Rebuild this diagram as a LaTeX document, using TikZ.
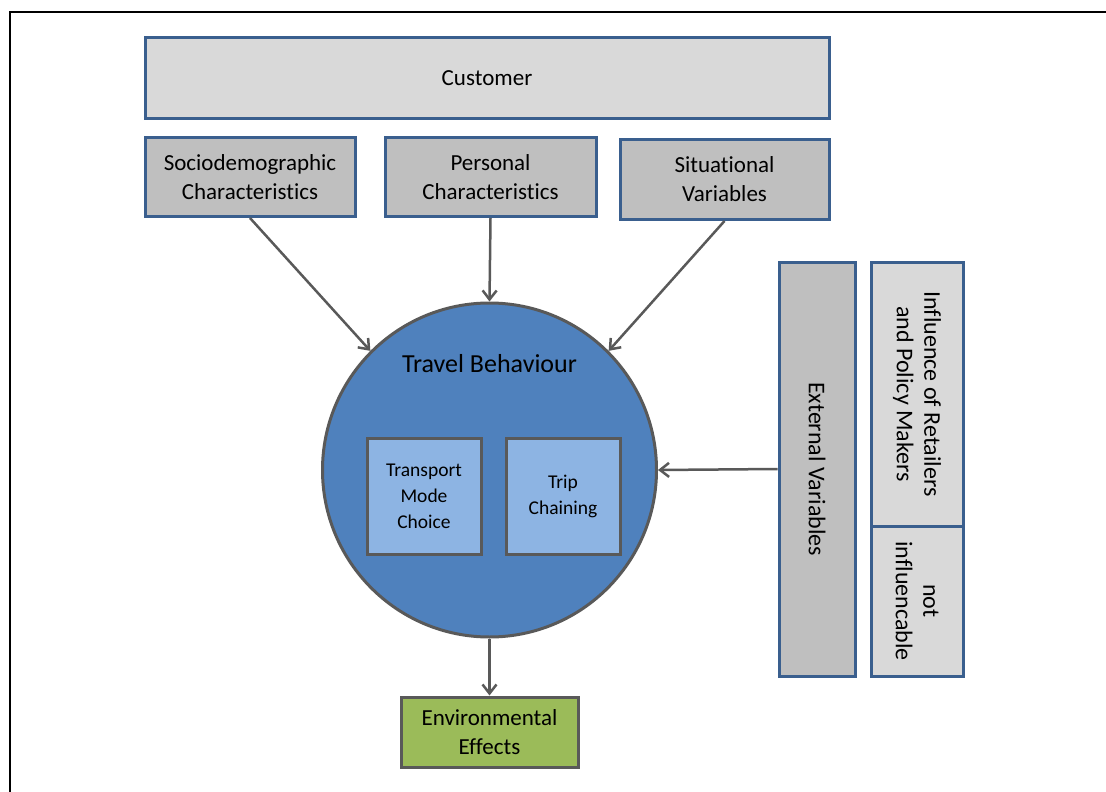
\documentclass[tikz,border=0pt]{standalone}
\usepackage{fontspec}
\setmainfont{Carlito}[Ligatures={NoCommon}]
\usetikzlibrary{arrows.meta}

\newlength{\du}
\setlength{\du}{1pt}

\definecolor{boxline}{rgb}{0.227,0.373,0.557}
\definecolor{darkline}{rgb}{0.349,0.349,0.349}
\definecolor{lightfill}{rgb}{0.851,0.851,0.851}
\definecolor{midfill}{rgb}{0.749,0.749,0.749}
\definecolor{circlefill}{rgb}{0.310,0.506,0.741}
\definecolor{innerfill}{rgb}{0.553,0.706,0.890}
\definecolor{envfill}{rgb}{0.608,0.733,0.349}

\tikzset{
  box/.style={draw=boxline, line width=3\du, inner sep=0pt, align=center,
    font=\fontsize{23}{29}\selectfont},
  lightbox/.style={box, fill=lightfill},
  midbox/.style={box, fill=midfill},
  innerbox/.style={draw=darkline, line width=3\du, fill=innerfill, inner sep=0pt,
    align=center, minimum width=114\du, minimum height=116\du,
    font=\fontsize{19.5}{26}\selectfont},
  sidetext/.style={rotate=-90, align=center, inner sep=0pt,
    font=\fontsize{24}{27.5}\selectfont},
  arrow/.style={draw=darkline, line width=2.5\du,
    -{Straight Barb[length=9pt,width=14pt]}}
}

\begin{document}
\begin{tikzpicture}[x=1\du,y=-1\du]
\path[use as bounding box] (0,0) rectangle (1106,792);

% frame
\draw[line width=2.5\du] (10,792) -- (10,12) -- (1106,12);

% customer row
\node[lightbox, minimum width=684\du, minimum height=80\du] (customer) at (487,78) {Customer};
\node[midbox, minimum width=210\du, minimum height=79\du] (socio) at (250,177)
  {Sociodemographic\\Characteristics};
\node[midbox, minimum width=211\du, minimum height=79\du] (personal) at (490.5,177)
  {Personal\\Characteristics};
\node[midbox, minimum width=209\du, minimum height=80\du] (situational) at (724.5,179.5)
  {Situational\\Variables};

% travel behaviour
\node[circle, draw=darkline, line width=3\du, fill=circlefill, minimum size=334\du,
  inner sep=0pt] (behaviour) at (489.5,470) {};
\node[font=\fontsize{26}{30}\selectfont, inner sep=0pt] (behaviourlabel) at (489.5,364)
  {Travel Behaviour};
\node[innerbox] (mode) at (424,496) {Transport\\Mode\\Choice};
\node[innerbox] (chaining) at (563,496) {Trip\\Chaining};

% external variables
\node[midbox, minimum width=76\du, minimum height=414\du] (external) at (817,469) {};
\node[sidetext] (externallabel) at (external.center) {External Variables};
\node[lightbox, minimum width=92\du, minimum height=264\du] (influence) at (917,394) {};
\node[sidetext] (influencelabel) at (influence.center)
  {Influence of Retailers\\and Policy Makers};
\node[lightbox, minimum width=92\du, minimum height=150\du] (notinfl) at (917,601) {};
\node[sidetext] (notinfllabel) at (notinfl.center) {not\\influencable};

% effects
\node[box, draw=darkline, fill=envfill, minimum width=177\du,
  minimum height=70\du] (effects) at (489.5,732) {Environmental\\Effects};

% arrows
\draw[arrow] (socio.south) -- (behaviour.135);
\draw[arrow] (personal.south) -- (behaviour.north);
\draw[arrow] (situational.south) -- (behaviour.45);
\draw[arrow] (external.west) -- (behaviour.east);
\draw[arrow] (behaviour.south) -- (effects.north);
\end{tikzpicture}
\end{document}
